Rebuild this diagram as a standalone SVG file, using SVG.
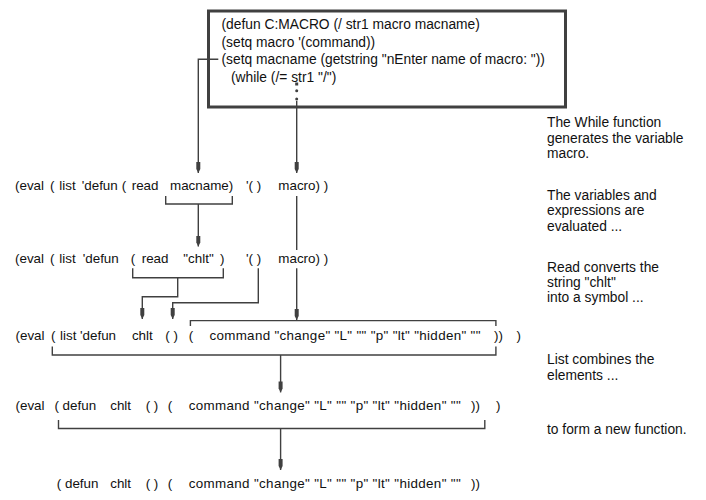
<svg xmlns="http://www.w3.org/2000/svg" width="706" height="500" viewBox="0 0 706 500">
<style>
text{font-family:"Liberation Sans",Arial,sans-serif;font-size:13.8px;fill:#111}
.code text{font-size:13.4px}
.ln{fill:none;stroke:#404040;stroke-width:1.4}
.box{fill:#fff;stroke:#404040;stroke-width:3}
.dot{fill:#404040}
</style>
<defs>
<marker id="arr" markerUnits="userSpaceOnUse" markerWidth="12" markerHeight="6" refX="11" refY="3" orient="auto" viewBox="0 0 12 6">
<path d="M0,1 L7,1 L11,3 L7,5 L0,5 Z" fill="#404040"/>
</marker>
</defs>
<rect width="706" height="500" fill="#fff"/>

<g id="code-box">
<rect class="box" x="208.5" y="11" width="357" height="96"/>
<text x="221.5" y="29">(defun C:MACRO (/ str1 macro macname)</text>
<text x="221.5" y="46.5">(setq macro '(command))</text>
<text x="221.5" y="64">(setq macname (getstring "nEnter name of macro: "))</text>
<text x="231" y="81.5">(while (/= str1 "/")</text>
<rect class="dot" x="295.2" y="82.5" width="3" height="3"/>
<circle class="dot" cx="296.7" cy="90.7" r="1.5"/>
<circle class="dot" cx="296.7" cy="99" r="1.5"/>
</g>

<g id="row1" class="code">
<text y="190"><tspan x="15">(eval</tspan><tspan x="50">(</tspan><tspan x="59.3">list</tspan><tspan x="81.7">'defun</tspan><tspan x="121.7">(</tspan><tspan x="131.7">read</tspan><tspan x="170">macname)</tspan><tspan x="246">'( )</tspan><tspan x="278.3">macro) )</tspan></text>
</g>
<g id="row2" class="code">
<text y="263"><tspan x="15">(eval</tspan><tspan x="50">(</tspan><tspan x="59.3">list</tspan><tspan x="82.7">'defun</tspan><tspan x="130.7">(</tspan><tspan x="141.7">read</tspan><tspan x="183.3">"chlt"</tspan><tspan x="220">)</tspan><tspan x="246">'( )</tspan><tspan x="278.3">macro) )</tspan></text>
</g>
<g id="row3" class="code">
<text y="339.5"><tspan x="15.5">(eval</tspan><tspan x="51">(</tspan><tspan x="60">list</tspan><tspan x="80">'defun</tspan><tspan x="131.9">chlt</tspan><tspan x="165.3">( )</tspan><tspan x="188.7">(</tspan></text>
<text x="209.4" y="339.5" textLength="271" lengthAdjust="spacing">command "change" "L" "" "p" "lt" "hidden" ""</text>
<text y="339.5"><tspan x="494.1">))</tspan><tspan x="516.5">)</tspan></text>
</g>
<g id="row4" class="code">
<text y="410"><tspan x="15.5">(eval</tspan><tspan x="54.4">( defun</tspan><tspan x="110.2">chlt</tspan><tspan x="145.7">( )</tspan><tspan x="167.7">(</tspan></text>
<text x="188.7" y="410" textLength="272" lengthAdjust="spacing">command "change" "L" "" "p" "lt" "hidden" ""</text>
<text y="410"><tspan x="471">))</tspan><tspan x="495.9">)</tspan></text>
</g>
<g id="row5" class="code">
<text y="487.5"><tspan x="56.8">( defun</tspan><tspan x="110.2">chlt</tspan><tspan x="145.7">( )</tspan><tspan x="167.7">(</tspan></text>
<text x="188.7" y="487.5" textLength="272" lengthAdjust="spacing">command "change" "L" "" "p" "lt" "hidden" ""</text>
<text x="471" y="487.5">))</text>
</g>

<g id="notes">
<text x="547" y="127">The While function</text>
<text x="547" y="142.7">generates the variable</text>
<text x="547" y="158.3">macro.</text>
<text x="547" y="200">The variables and</text>
<text x="547" y="215.3">expressions are</text>
<text x="547" y="230.7">evaluated ...</text>
<text x="547" y="271.7">Read converts the</text>
<text x="547" y="287">string "chlt"</text>
<text x="547" y="302.3">into a symbol ...</text>
<text x="547" y="364.3">List combines the</text>
<text x="547" y="380">elements ...</text>
<text x="547" y="434.3">to form a new function.</text>
</g>

<g id="connectors">
<path class="ln" d="M218.3,59.3 H198.3 V173" marker-end="url(#arr)"/>
<path class="ln" d="M296.7,101 V173" marker-end="url(#arr)"/>
<path class="ln" d="M165.7,196 V204 H232.3 V196"/>
<path class="ln" d="M198.3,204 V246.5" marker-end="url(#arr)"/>
<path class="ln" d="M296.7,196 V250"/>
<path class="ln" d="M132.7,268.3 V277.7 H223.3 V268.3"/>
<path class="ln" d="M177.7,277.7 V296.7 H142.3 V319" marker-end="url(#arr)"/>
<path class="ln" d="M258.3,268.3 V302.7 H172.7 V319" marker-end="url(#arr)"/>
<path class="ln" d="M296.7,268.3 V320" marker-end="url(#arr)"/>
<path class="ln" d="M190.4,326 V320.6 H495.9 V326"/>
<path class="ln" d="M52.3,346.4 V355 H495.9 V346.4"/>
<path class="ln" d="M280.6,355 V392.4" marker-end="url(#arr)"/>
<path class="ln" d="M58.5,420 V428.5 H484.8 V420"/>
<path class="ln" d="M280.6,428.5 V470" marker-end="url(#arr)"/>
</g>
</svg>
